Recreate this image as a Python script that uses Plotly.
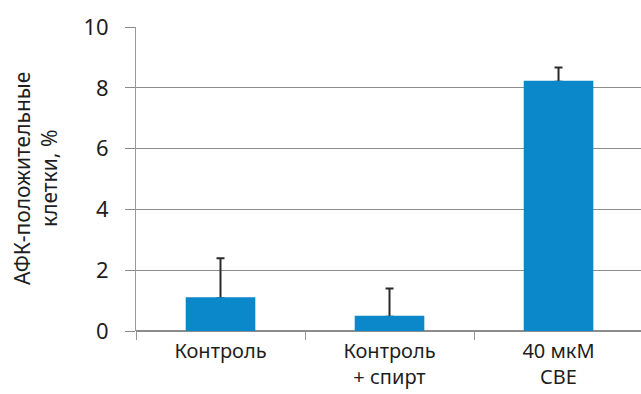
import plotly.graph_objects as go

categories = ["Контроль", "Контроль<br>+ спирт", "40 мкМ<br>СВЕ"]
values = [1.08, 0.47, 8.2]
errors = [1.31, 0.93, 0.47]
y_ticks = [0, 2, 4, 6, 8, 10]

BAR_COLOR = "#0a88c9"

fig = go.Figure()
# bars with upward error bars
fig.add_trace(go.Bar(
    x=categories, y=values, width=0.40,
    marker=dict(color=BAR_COLOR, line=dict(width=0)),
    error_y=dict(type="data", array=errors, symmetric=False,
                 arrayminus=[0, 0, 0], color="#2a2a2a", thickness=2, width=4),
))
# identical bars on top to hide the lower cap
fig.add_trace(go.Bar(
    x=categories, y=values, width=0.40,
    marker=dict(color=BAR_COLOR, line=dict(width=2, color=BAR_COLOR)),
    hoverinfo="skip",
))
fig.update_layout(
    width=641, height=394, barmode="overlay",
    margin=dict(l=136, r=0, t=27, b=63),
    paper_bgcolor="white", plot_bgcolor="white",
    showlegend=False,
    font=dict(family="Noto Sans", color="#1e1e1e"),
    annotations=[dict(
        text="АФК-положительные<br>клетки, %", textangle=-90,
        xref="paper", yref="paper", x=(35 - 136) / 505, y=0.5,
        xanchor="center", yanchor="middle", showarrow=False,
        font=dict(size=21, color="#1e1e1e"),
    )],
)
fig.update_xaxes(
    type="category", range=[-0.5, 2.488], automargin=False,
    tickson="boundaries", ticks="outside", ticklen=8, tickcolor="#999999",
    ticklabelstandoff=6,
    showline=False, tickfont=dict(size=20, color="#1e1e1e"),
    showgrid=False,
)
fig.update_yaxes(
    range=[0, 10], tickvals=y_ticks, ticks="outside", ticklen=10,
    automargin=False,
    tickcolor="#888888", showgrid=True, gridcolor="#8c8c8c", gridwidth=1,
    showline=True, linecolor="#999999", linewidth=1,
    zeroline=True, zerolinecolor="#8c8c8c",
    ticklabelstandoff=12,
    tickfont=dict(size=22, color="#1e1e1e"),
)
fig.write_html("out.html")
